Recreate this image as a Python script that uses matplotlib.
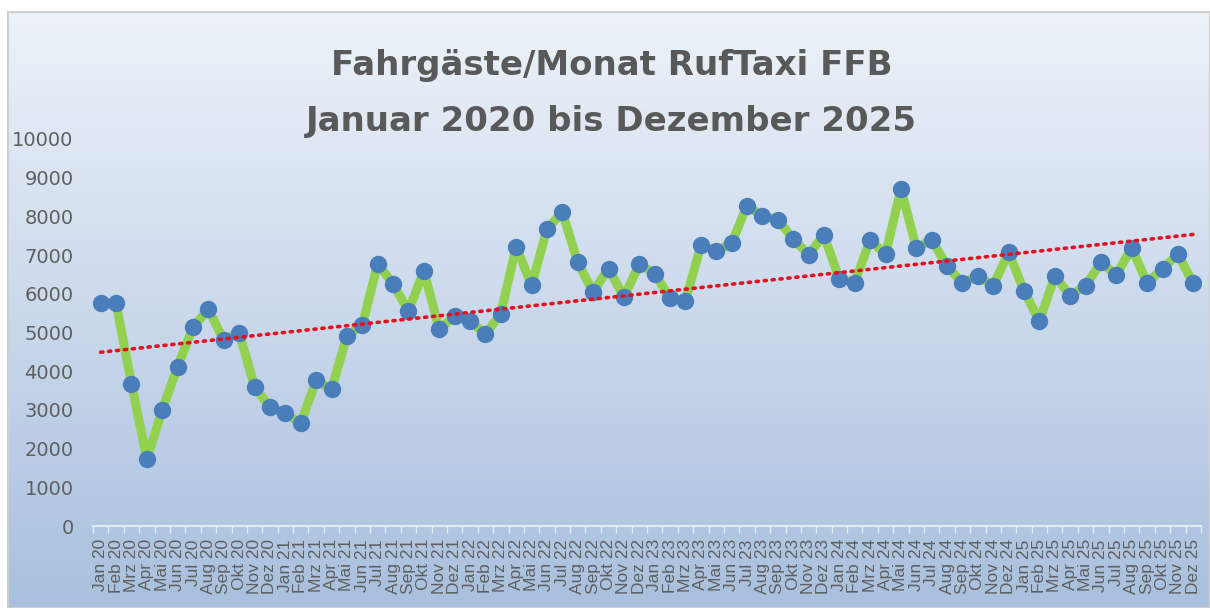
import numpy as np
import matplotlib
matplotlib.use("Agg")
import matplotlib.pyplot as plt
from matplotlib.ticker import FixedLocator

months = ["Jan", "Feb", "Mrz", "Apr", "Mai", "Jun", "Jul", "Aug", "Sep", "Okt", "Nov", "Dez"]
years = ["20", "21", "22", "23", "24", "25"]
labels = [f"{m} {y}" for y in years for m in months]

passengers = [
    5750, 5750, 3680, 1730, 3000, 4120, 5140, 5600, 4800, 5000, 3590, 3070,
    2910, 2660, 3760, 3530, 4910, 5190, 6780, 6250, 5560, 6590, 5080, 5430,
    5310, 4950, 5490, 7220, 6220, 7670, 8110, 6810, 6050, 6650, 5920, 6760,
    6520, 5880, 5820, 7250, 7110, 7300, 8280, 8010, 7910, 7420, 7010, 7520,
    6380, 6290, 7390, 7020, 8710, 7190, 7390, 6720, 6270, 6460, 6210, 7070,
    6080, 5290, 6460, 5950, 6210, 6810, 6490, 7190, 6270, 6650, 7020, 6270,
]

title_line1 = "Fahrgäste/Monat RufTaxi FFB"
title_line2 = "Januar 2020 bis Dezember 2025"
y_ticks = [0, 1000, 2000, 3000, 4000, 5000, 6000, 7000, 8000, 9000, 10000]

W, H = 1210, 608
fig = plt.figure(figsize=(W / 100, H / 100), dpi=100)
fig.patch.set_facecolor("white")

# background gradient panel
bg = fig.add_axes([8 / W, 0, 1 - 8 / W, (H - 12) / H], zorder=-5)
top = np.array([0.930, 0.950, 0.975])
bot = np.array([0.660, 0.752, 0.870])
t = np.linspace(0, 1, 256)[:, None]
grad = (top[None, :] * (1 - t) + bot[None, :] * t)[:, None, :]
grad = np.repeat(grad, 2, axis=1)
bg.imshow(grad, aspect="auto", extent=[0, 1, 0, 1], origin="upper")
bg.set_xlim(0, 1); bg.set_ylim(0, 1)
bg.set_xticks([]); bg.set_yticks([])
for s in bg.spines.values():
    s.set_color("#d0d0d0"); s.set_linewidth(1.5)

x = np.arange(len(passengers))
ax = fig.add_axes([93 / W, 82 / H, (1201 - 93) / W, (469 - 82) / H])
ax.patch.set_alpha(0)

ax.plot(x, passengers, color="#92d050", lw=6.5, solid_joinstyle="round",
        solid_capstyle="round", zorder=2)
ax.plot(x, passengers, ls="none", marker="o", ms=11.5, mfc="#4a7ebb", mec="#4a7ebb", zorder=3)

coef = np.polyfit(x, passengers, 1)
trend = np.polyval(coef, x)
ax.plot(x, trend, color="#e3101f", lw=2.6, ls=(0, (0.6, 1.6)), dash_capstyle="round", zorder=4)

ax.set_xlim(-0.5, len(passengers) - 0.5)
ax.set_ylim(0, 10000)
ax.set_yticks(y_ticks)
ax.set_yticklabels([str(v) for v in y_ticks], fontsize=14, color="#5f5f5f", family="DejaVu Sans")
ax.tick_params(axis="y", length=0, pad=14)

ax.set_xticks(x)
ax.set_xticklabels(labels, rotation=90, fontsize=12.5, color="#5f5f5f", family="Liberation Sans", va="top")
ax.tick_params(axis="x", which="major", length=0, pad=9.5)
ax.xaxis.set_minor_locator(FixedLocator(np.arange(-0.5, len(passengers), 1)))
ax.tick_params(axis="x", which="minor", length=5, color="#e6ebf2", width=1)

for s in ["top", "right", "left"]:
    ax.spines[s].set_visible(False)
ax.spines["bottom"].set_color("#e6ebf2")
ax.spines["bottom"].set_linewidth(1.5)

fig.text(612 / W, 1 - 66 / H, title_line1, ha="center", va="center", fontsize=24.5,
         fontweight="bold", color="#595959", family="DejaVu Sans")
fig.text(611 / W, 1 - 121 / H, title_line2, ha="center", va="center", fontsize=24.5,
         fontweight="bold", color="#595959", family="DejaVu Sans")

fig.savefig("out.png", dpi=100)
